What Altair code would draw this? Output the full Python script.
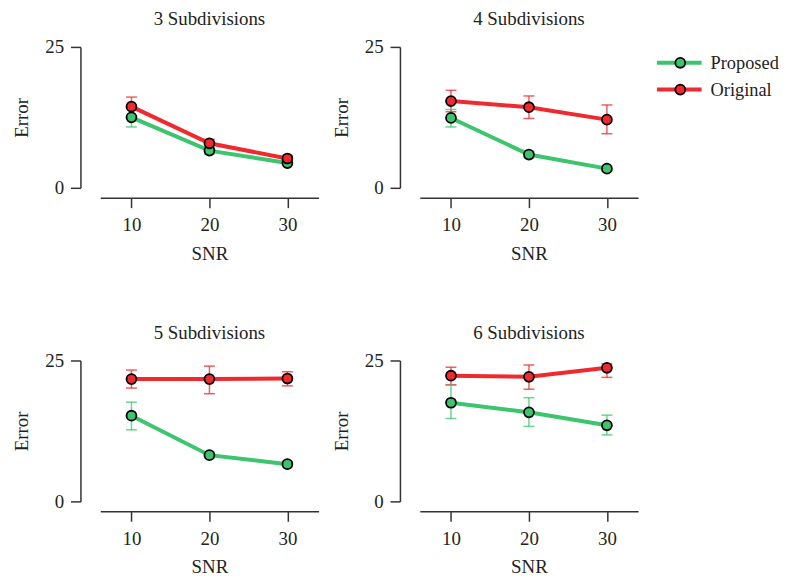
import altair as alt
import pandas as pd

panels = ["3 Subdivisions", "4 Subdivisions", "5 Subdivisions", "6 Subdivisions"]
snr = [10, 20, 30]
methods = ["Proposed", "Original"]
colors = ["#3cc46e", "#ee2a2e"]

# mean error and error-bar ends, one row per panel, one value per SNR
proposed_mean = [[12.5, 6.6, 4.4], [12.4, 5.9, 3.4], [15.2, 8.2, 6.6], [17.5, 15.8, 13.5]]
proposed_lo = [[10.8, 6.0, 4.0], [10.8, 5.3, 3.0], [12.7, 7.7, 6.1], [14.7, 13.3, 11.8]]
proposed_hi = [[14.2, 7.2, 4.8], [13.9, 6.5, 3.8], [17.6, 8.7, 7.1], [20.6, 18.4, 15.3]]
original_mean = [[14.4, 7.9, 5.2], [15.4, 14.3, 12.1], [21.7, 21.7, 21.8], [22.3, 22.1, 23.7]]
original_lo = [[12.8, 7.2, 4.7], [13.5, 12.3, 9.6], [20.1, 19.1, 20.5], [20.7, 19.9, 22.0]]
original_hi = [[16.1, 8.6, 5.7], [17.3, 16.3, 14.7], [23.3, 24.0, 23.0], [23.8, 24.2, 24.4]]

rows = []
for p, name in enumerate(panels):
    for m, means, los, his in [
        ("Proposed", proposed_mean, proposed_lo, proposed_hi),
        ("Original", original_mean, original_lo, original_hi),
    ]:
        for i, s in enumerate(snr):
            rows.append({"panel": name, "method": m, "series": m, "snr": s,
                         "value": means[p][i], "lo": los[p][i], "hi": his[p][i]})
df = pd.DataFrame(rows)

FONT = "Liberation Serif"
FS = 19

line_legend = alt.Legend(title=None, orient="none", legendX=559, legendY=6,
                         symbolType="stroke", symbolSize=2025, symbolStrokeWidth=4,
                         symbolOpacity=1, clipHeight=20, rowPadding=7, padding=0,
                         labelFont=FONT, labelFontSize=18.5, labelColor="#222",
                         labelOffset=7)
point_legend = alt.Legend(title=None, orient="none", legendX=575, legendY=6,
                          symbolType="circle", symbolSize=100, symbolStrokeColor="black",
                          symbolStrokeWidth=1.8, symbolOpacity=1, clipHeight=20,
                          rowPadding=7, padding=0, labelExpr="''", labelFontSize=FS)

yaxis = alt.Axis(values=[0, 25], title="Error", offset=20, labelPadding=7, titlePadding=13)
yscale = alt.Scale(domain=[0, 25], nice=False, zero=False)
stroke = alt.Stroke("series:N", sort=methods, scale=alt.Scale(range=colors), legend=line_legend)
fill = alt.Fill("method:N", sort=methods, scale=alt.Scale(range=colors), legend=point_legend)


def panel(name, bottom):
    xenc = alt.X("snr:Q", scale=alt.Scale(domain=[6, 34], nice=False, zero=False),
                 axis=alt.Axis(values=snr, title="SNR", offset=10,
                               labelPadding=8, titlePadding=10))
    base = alt.Chart(df).transform_filter(alt.datum.panel == name)
    bars = base.mark_rule(strokeWidth=1.5, opacity=0.75).encode(
        x=xenc, y=alt.Y("lo:Q", scale=yscale, axis=yaxis), y2="hi:Q", stroke=stroke)
    cap_lo = base.mark_tick(orient="horizontal", size=11, thickness=1.5, opacity=0.75).encode(
        x=xenc, y=alt.Y("lo:Q", scale=yscale, axis=yaxis), fill=fill)
    cap_hi = base.mark_tick(orient="horizontal", size=11, thickness=1.5, opacity=0.75).encode(
        x=xenc, y=alt.Y("hi:Q", scale=yscale, axis=yaxis), fill=fill)
    line = base.mark_line(strokeWidth=4).encode(
        x=xenc, y=alt.Y("value:Q", scale=yscale, axis=yaxis), stroke=stroke)
    pts = base.mark_circle(size=100, stroke="black", strokeWidth=1.8, opacity=1).encode(
        x=xenc, y=alt.Y("value:Q", scale=yscale, axis=yaxis), fill=fill)
    return alt.layer(bars, cap_lo, cap_hi, line, pts).properties(
        width=220, height=142,
        title=alt.TitleParams(text=name, font=FONT, fontSize=FS, fontWeight="normal",
                              color="#222", anchor="middle", offset=9),
    )


chart = alt.concat(*[panel(n, i >= 2) for i, n in enumerate(panels)], columns=2,
                   spacing={"row": 174, "column": 102}, bounds="flush").properties(
    padding={"left": 5, "top": 0, "right": 0, "bottom": 0}
).configure_view(
    stroke=None
).configure_axis(
    grid=False, domainColor="#333", domainWidth=1.5, tickColor="#333", tickWidth=1.5,
    tickSize=10, labelFont=FONT, labelFontSize=FS, labelColor="#222",
    titleFont=FONT, titleFontSize=FS, titleFontWeight="normal", titleColor="#222",
)

chart.save("out.html", embed_options={"renderer": "svg", "actions": False})
